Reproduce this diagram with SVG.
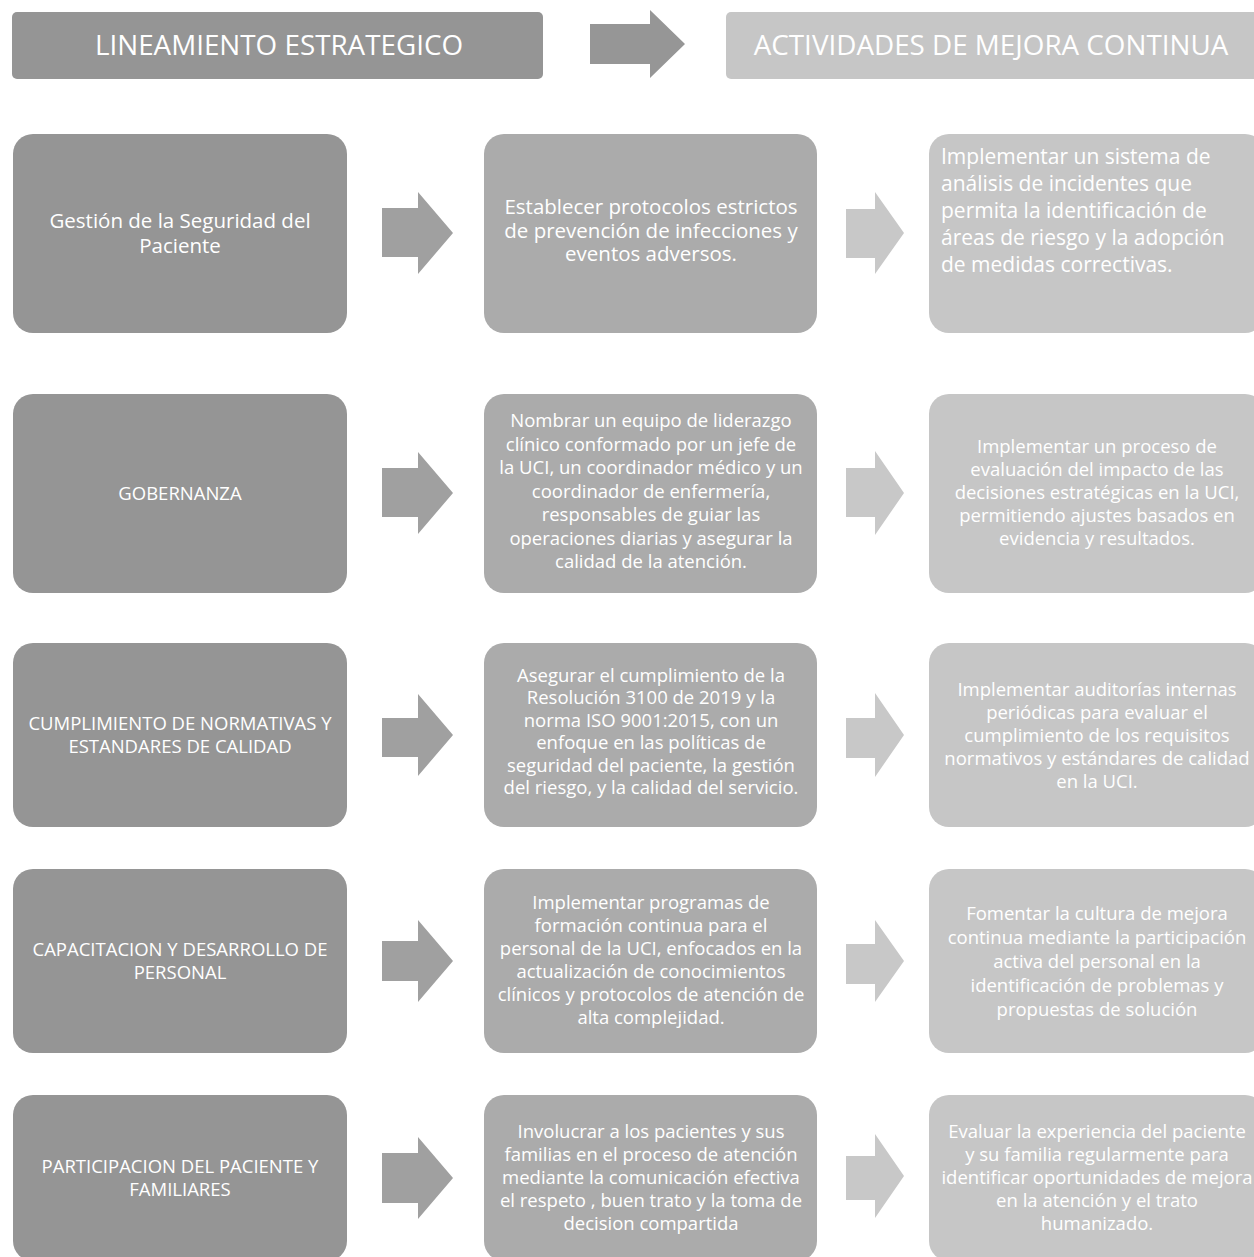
<svg xmlns="http://www.w3.org/2000/svg" width="1254" height="1257" viewBox="0 0 1254 1257">
<style>
text{font-family:"Open Sans","Liberation Sans",sans-serif;fill:#ffffff;text-anchor:middle}
.hdr{font-size:27.8px}
.l{fill:#959595}
.m{fill:#ababab}
.r{fill:#c6c6c6}
.a1{fill:#a0a0a0}
.a2{fill:#c8c8c8}
.tl{font-size:18.5px}
.tl1{font-size:20.5px}
.tm{font-size:18.5px}
.tm1{font-size:20.5px}
.tr{font-size:18.5px}
.tr1{font-size:21px;text-anchor:start}
</style>
<rect width="1254" height="1257" fill="#ffffff"/>

<g id="hdr-left"><rect class="l" x="12" y="12" width="531" height="67" rx="5"/><text class="hdr" x="279" y="55">LINEAMIENTO ESTRATEGICO</text></g>
<g id="hdr-right"><rect class="r" x="726" y="12" width="534" height="67" rx="5"/><text class="hdr" x="991" y="55">ACTIVIDADES DE MEJORA CONTINUA</text></g>

<g id="row1-left"><rect class="l" x="13" y="134" width="334" height="199" rx="20"/>
<text class="tl1" x="180" y="228">Gestión de la Seguridad del</text><text class="tl1" x="180" y="253">Paciente</text></g>
<g id="row1-mid"><rect class="m" x="484" y="134" width="333" height="199" rx="20"/>
<text class="tm1" x="651" y="214">Establecer protocolos estrictos</text>
<text class="tm1" x="651" y="237.5">de prevención de infecciones y</text>
<text class="tm1" x="651" y="261">eventos adversos.</text></g>
<g id="row1-right"><rect class="r" x="929" y="134" width="336" height="199" rx="20"/>
<text class="tr1" x="941" y="164">Implementar un sistema de</text>
<text class="tr1" x="941" y="191">análisis de incidentes que</text>
<text class="tr1" x="941" y="218">permita la identificación de</text>
<text class="tr1" x="941" y="245">áreas de riesgo y la adopción</text>
<text class="tr1" x="941" y="272">de medidas correctivas.</text></g>

<g id="row2-left"><rect class="l" x="13" y="394" width="334" height="199" rx="20"/>
<text class="tl" x="180" y="500">GOBERNANZA</text></g>
<g id="row2-mid"><rect class="m" x="484" y="394" width="333" height="199" rx="20"/>
<text class="tm" x="651" y="427">Nombrar un equipo de liderazgo</text>
<text class="tm" x="651" y="450.5">clínico conformado por un jefe de</text>
<text class="tm" x="651" y="474">la UCI, un coordinador médico y un</text>
<text class="tm" x="651" y="497.5">coordinador de enfermería,</text>
<text class="tm" x="651" y="521">responsables de guiar las</text>
<text class="tm" x="651" y="544.5">operaciones diarias y asegurar la</text>
<text class="tm" x="651" y="568">calidad de la atención.</text></g>
<g id="row2-right"><rect class="r" x="929" y="394" width="336" height="199" rx="20"/>
<text class="tr" x="1097" y="453">Implementar un proceso de</text>
<text class="tr" x="1097" y="476">evaluación del impacto de las</text>
<text class="tr" x="1097" y="499">decisiones estratégicas en la UCI,</text>
<text class="tr" x="1097" y="522">permitiendo ajustes basados en</text>
<text class="tr" x="1097" y="545">evidencia y resultados.</text></g>

<g id="row3-left"><rect class="l" x="13" y="643" width="334" height="184" rx="20"/>
<text class="tl" x="180" y="730">CUMPLIMIENTO DE NORMATIVAS Y</text>
<text class="tl" x="180" y="753">ESTANDARES DE CALIDAD</text></g>
<g id="row3-mid"><rect class="m" x="484" y="643" width="333" height="184" rx="20"/>
<text class="tm" x="651" y="681.5">Asegurar el cumplimiento de la</text>
<text class="tm" x="651" y="704">Resolución 3100 de 2019 y la</text>
<text class="tm" x="651" y="726.5">norma ISO 9001:2015, con un</text>
<text class="tm" x="651" y="749">enfoque en las políticas de</text>
<text class="tm" x="651" y="771.5">seguridad del paciente, la gestión</text>
<text class="tm" x="651" y="794">del riesgo, y la calidad del servicio.</text></g>
<g id="row3-right"><rect class="r" x="929" y="643" width="336" height="184" rx="20"/>
<text class="tr" x="1097" y="696">Implementar auditorías internas</text>
<text class="tr" x="1097" y="719">periódicas para evaluar el</text>
<text class="tr" x="1097" y="742">cumplimiento de los requisitos</text>
<text class="tr" x="1097" y="765">normativos y estándares de calidad</text>
<text class="tr" x="1097" y="788">en la UCI.</text></g>

<g id="row4-left"><rect class="l" x="13" y="869" width="334" height="184" rx="20"/>
<text class="tl" x="180" y="956">CAPACITACION Y DESARROLLO DE</text>
<text class="tl" x="180" y="979">PERSONAL</text></g>
<g id="row4-mid"><rect class="m" x="484" y="869" width="333" height="184" rx="20"/>
<text class="tm" x="651" y="909">Implementar programas de</text>
<text class="tm" x="651" y="932">formación continua para el</text>
<text class="tm" x="651" y="955">personal de la UCI, enfocados en la</text>
<text class="tm" x="651" y="978">actualización de conocimientos</text>
<text class="tm" x="651" y="1001">clínicos y protocolos de atención de</text>
<text class="tm" x="651" y="1024">alta complejidad.</text></g>
<g id="row4-right"><rect class="r" x="929" y="869" width="336" height="184" rx="20"/>
<text class="tr" x="1097" y="920">Fomentar la cultura de mejora</text>
<text class="tr" x="1097" y="944">continua mediante la participación</text>
<text class="tr" x="1097" y="968">activa del personal en la</text>
<text class="tr" x="1097" y="992">identificación de problemas y</text>
<text class="tr" x="1097" y="1016">propuestas de solución</text></g>

<g id="row5-left"><rect class="l" x="13" y="1095" width="334" height="166" rx="20"/>
<text class="tl" x="180" y="1173">PARTICIPACION DEL PACIENTE Y</text>
<text class="tl" x="180" y="1196">FAMILIARES</text></g>
<g id="row5-mid"><rect class="m" x="484" y="1095" width="333" height="166" rx="20"/>
<text class="tm" x="651" y="1138">Involucrar a los pacientes y sus</text>
<text class="tm" x="651" y="1161">familias en el proceso de atención</text>
<text class="tm" x="651" y="1184">mediante la comunicación efectiva</text>
<text class="tm" x="651" y="1207">el respeto , buen trato y la toma de</text>
<text class="tm" x="651" y="1230">decision compartida</text></g>
<g id="row5-right"><rect class="r" x="929" y="1095" width="336" height="166" rx="20"/>
<text class="tr" x="1097" y="1138">Evaluar la experiencia del paciente</text>
<text class="tr" x="1097" y="1161">y su familia regularmente para</text>
<text class="tr" x="1097" y="1184">identificar oportunidades de mejora</text>
<text class="tr" x="1097" y="1207">en la atención y el trato</text>
<text class="tr" x="1097" y="1230">humanizado.</text></g>

<g id="connectors">
<polygon fill="#969696" points="590,24 650,24 650,10 685,44 650,78 650,64 590,64"/>
<polygon class="a1" points="382,208 418,208 418,192 453,233 418,274 418,257 382,257"/>
<polygon class="a1" points="382,468 418,468 418,452 453,493 418,534 418,517 382,517"/>
<polygon class="a1" points="382,718 418,718 418,694 453,735 418,776 418,757 382,757"/>
<polygon class="a1" points="382,941 418,941 418,920 453,961 418,1002 418,981 382,981"/>
<polygon class="a1" points="382,1153 418,1153 418,1137 453,1178 418,1219 418,1203 382,1203"/>
<polygon class="a2" points="846,209 875,209 875,192 904,233 875,274 875,258 846,258"/>
<polygon class="a2" points="846,468 875,468 875,451 904,493 875,535 875,517 846,517"/>
<polygon class="a2" points="846,718 875,718 875,693 904,735 875,777 875,758 846,758"/>
<polygon class="a2" points="846,944 875,944 875,920 904,961 875,1002 875,984 846,984"/>
<polygon class="a2" points="846,1156 875,1156 875,1134 904,1176 875,1218 875,1200 846,1200"/>
</g>
</svg>
